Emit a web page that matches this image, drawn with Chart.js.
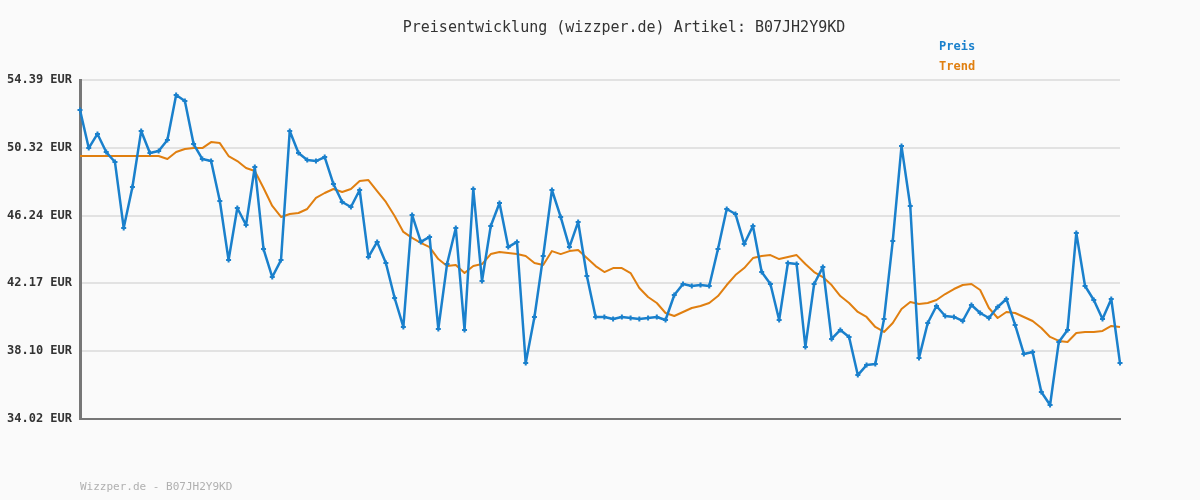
<!DOCTYPE html>
<html>
<head>
<meta charset="utf-8">
<script src="https://cdn.jsdelivr.net/npm/chart.js@4/dist/chart.umd.min.js"></script>
<style>
  html, body { margin: 0; padding: 0; background: #fafafa; }
  #wrap { width: 1200px; height: 500px; position: relative; }
</style>
</head>
<body>
<div id="wrap"><canvas id="chart" width="1200" height="500"></canvas></div>
<script>
'use strict';
const title = 'Preisentwicklung (wizzper.de) Artikel: B07JH2Y9KD';
const footer = 'Wizzper.de - B07JH2Y9KD';
const yTicks = [34.02, 38.10, 42.17, 46.24, 50.32, 54.39];

const preis = [
  52.59, 50.30, 51.15, 50.06, 49.46, 45.50, 47.96, 51.33, 50.00, 50.12,
  50.78, 53.49, 53.13, 50.54, 49.64, 49.52, 47.12, 43.57, 46.70, 45.68,
  49.16, 44.23, 42.55, 43.57, 51.33, 50.00, 49.58, 49.52, 49.76, 48.14,
  47.06, 46.76, 47.78, 43.75, 44.66, 43.39, 41.29, 39.55, 46.28, 44.66,
  44.96, 39.43, 43.33, 45.50, 39.37, 47.84, 42.31, 45.62, 47.00, 44.35,
  44.66, 37.38, 40.15, 43.81, 47.78, 46.16, 44.35, 45.86, 42.61, 40.15,
  40.15, 40.03, 40.15, 40.09, 40.03, 40.09, 40.15, 39.97, 41.47, 42.13,
  42.01, 42.07, 42.01, 44.23, 46.64, 46.34, 44.54, 45.62, 42.85, 42.13,
  39.97, 43.39, 43.33, 38.35, 42.13, 43.15, 38.83, 39.37, 38.95, 36.66,
  37.26, 37.32, 40.03, 44.72, 50.42, 46.82, 37.68, 39.79, 40.81, 40.21,
  40.15, 39.91, 40.87, 40.39, 40.09, 40.75, 41.23, 39.67, 37.93, 38.05,
  35.64, 34.86, 38.65, 39.37, 45.20, 42.01, 41.17, 40.03, 41.23, 37.38
];

const trend = [
  49.82, 49.82, 49.82, 49.82, 49.82, 49.82, 49.82, 49.82, 49.82, 49.82,
  49.64, 50.06, 50.24, 50.30, 50.30, 50.66, 50.60, 49.82, 49.52, 49.10,
  48.92, 47.90, 46.82, 46.16, 46.34, 46.40, 46.64, 47.30, 47.60, 47.84,
  47.66, 47.84, 48.32, 48.38, 47.72, 47.06, 46.22, 45.26, 44.90, 44.60,
  44.35, 43.63, 43.21, 43.27, 42.79, 43.21, 43.33, 43.93, 44.05, 43.99,
  43.93, 43.81, 43.39, 43.27, 44.11, 43.93, 44.11, 44.17, 43.69, 43.21,
  42.85, 43.09, 43.09, 42.79, 41.89, 41.35, 40.99, 40.39, 40.21, 40.45,
  40.69, 40.81, 40.99, 41.41, 42.07, 42.67, 43.09, 43.69, 43.81, 43.87,
  43.63, 43.75, 43.87, 43.33, 42.85, 42.55, 42.07, 41.41, 40.99, 40.45,
  40.15, 39.55, 39.25, 39.79, 40.63, 41.05, 40.93, 40.99, 41.17, 41.53,
  41.83, 42.07, 42.13, 41.77, 40.69, 40.09, 40.45, 40.39, 40.15, 39.91,
  39.49, 38.95, 38.71, 38.65, 39.19, 39.25, 39.25, 39.31, 39.61, 39.55
];

const labels = preis.map((_, i) => i + 1);
const MONO = '"DejaVu Sans Mono", "Liberation Mono", monospace';

// title, legend text and footer drawn as plain text like the original
const decor = {
  id: 'decor',
  afterDraw(chart) {
    const ctx = chart.ctx;
    ctx.save();
    ctx.textBaseline = 'middle';
    ctx.font = '15px ' + MONO;
    ctx.fillStyle = '#333';
    ctx.textAlign = 'center';
    ctx.fillText(title, 624, 28);
    ctx.textAlign = 'left';
    ctx.font = 'bold 12px ' + MONO;
    ctx.fillStyle = '#1a80cc';
    ctx.fillText('Preis', 939, 47);
    ctx.fillStyle = '#e07f10';
    ctx.fillText('Trend', 939, 67);
    ctx.font = '11px ' + MONO;
    ctx.fillStyle = '#b0b0b0';
    ctx.fillText(footer, 80, 487);
    ctx.restore();
  }
};

new Chart(document.getElementById('chart').getContext('2d'), {
  type: 'line',
  data: {
    labels: labels,
    datasets: [
      {
        label: 'Trend',
        data: trend,
        borderColor: '#e07f10',
        borderWidth: 2,
        borderJoinStyle: 'round',
        pointRadius: 0,
        tension: 0,
        order: 2,
      },
      {
        label: 'Preis',
        data: preis,
        borderColor: '#1a80cc',
        backgroundColor: '#1a80cc',
        borderWidth: 2.5,
        borderJoinStyle: 'round',
        pointStyle: 'cross',
        pointRadius: 2.5,
        pointBorderWidth: 2,
        tension: 0,
        order: 1,
      },
    ],
  },
  options: {
    responsive: false,
    animation: false,
    layout: { padding: { top: 80, bottom: 81, right: 80, left: 0 } },
    plugins: { legend: { display: false }, tooltip: { enabled: false } },
    scales: {
      x: {
        offset: false,
        grid: { display: false },
        border: { display: true, color: '#777', width: 2 },
        ticks: { display: false },
        afterFit(scale) { scale.height = 0; },
      },
      y: {
        min: 34.02,
        max: 54.39,
        afterBuildTicks(scale) { scale.ticks = yTicks.map(v => ({ value: v })); },
        afterFit(scale) { scale.width = 80; },
        grid: { color: '#e2e2e2', lineWidth: 2, drawTicks: false },
        border: { display: true, color: '#777', width: 3 },
        ticks: {
          padding: 8,
          color: '#333',
          font: { family: MONO, size: 12, weight: 'bold' },
          callback: v => v.toFixed(2) + ' EUR',
        },
      },
    },
  },
  plugins: [decor],
});
</script>
</body>
</html>
